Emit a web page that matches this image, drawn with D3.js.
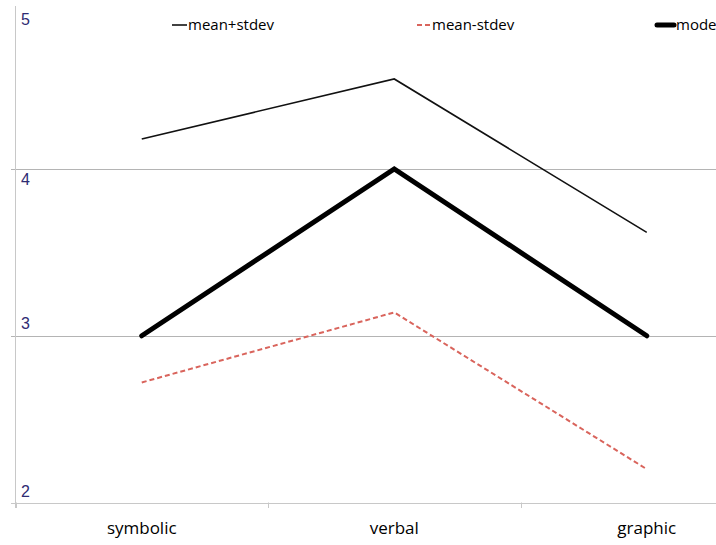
<!DOCTYPE html>
<html>
<head>
<meta charset="utf-8">
<script src="https://cdn.jsdelivr.net/npm/d3@7"></script>
<style>
	body { margin: 0; background: #fff; }
	svg { display: block; }
</style>
</head>
<body>
<div id="chart"></div>
<script>
// chart data
const categories = ['symbolic', 'verbal', 'graphic'];
const meanPlusStdev = [4.18, 4.54, 3.62];
const meanMinusStdev = [2.72, 3.14, 2.20];
const modeValues = [3, 4, 3];
const yTicks = [2, 3, 4, 5];

const w = 716, h = 545;

let svg = d3.select('#chart').append('svg')
	.attr('width', w)
	.attr('height', h);

const x = d3.scaleBand().domain(categories).range([15.5, 15.5 + 3 * 252.5]);
const y = d3.scaleLinear().domain([2, 5]).range([502.5, 2.25]);

// gridlines (the 2 line doubles as the x axis)
svg.append('g').selectAll('line')
	.data(yTicks.filter(function(d){ return d < 5 }))
	.enter().append('line')
	.attr('x1', 11).attr('x2', w)
	.attr('y1', function(d){ return Math.round(y(d)) + 0.5 })
	.attr('y2', function(d){ return Math.round(y(d)) + 0.5 })
	.attr('stroke', function(d){ return d == 2 ? '#c8c8c8' : '#b4b4b4' })
	.attr('stroke-width', 1);

// y axis line
svg.append('line')
	.attr('x1', 15.5).attr('x2', 15.5)
	.attr('y1', 6).attr('y2', 508)
	.attr('stroke', '#c8c8c8');

// x ticks between categories
svg.append('g').selectAll('line')
	.data(categories)
	.enter().append('line')
	.attr('x1', function(d){ return Math.round(x(d)) + 0.5 })
	.attr('x2', function(d){ return Math.round(x(d)) + 0.5 })
	.attr('y1', 502.5).attr('y2', 508)
	.attr('stroke', '#c8c8c8');

// y labels sit oddly round their lines, like the original
const labelShift = { 2: -5.5, 3: -7, 4: 16, 5: 23 };
svg.append('g').selectAll('text')
	.data(yTicks)
	.enter().append('text')
	.attr('x', 21)
	.attr('y', function(d){ return y(d) + labelShift[d] })
	.attr('font-family', 'Liberation Sans, Arial, sans-serif')
	.attr('font-size', 16)
	.attr('fill', '#2e2b73')
	.text(function(d){ return d });

// x labels
svg.append('g').selectAll('text')
	.data(categories)
	.enter().append('text')
	.attr('x', function(d){ return x(d) + x.bandwidth() / 2 })
	.attr('y', 534)
	.attr('text-anchor', 'middle')
	.attr('font-family', 'Open Sans, sans-serif')
	.attr('font-size', 17)
	.attr('fill', '#000')
	.text(function(d){ return d });

const series = [
	{ name: 'mean+stdev', values: meanPlusStdev, color: '#111', width: 1.6, dash: null, cap: 'butt', lx: 172, ll: 15 },
	{ name: 'mean-stdev', values: meanMinusStdev, color: '#d9645c', width: 2, dash: '5,3', cap: 'butt', lx: 417, ll: 14 },
	{ name: 'mode', values: modeValues, color: '#000', width: 5, dash: null, cap: 'round', lx: 657, ll: 17 }
];

const line = d3.line()
	.x(function(d, i){ return x(categories[i]) + x.bandwidth() / 2 })
	.y(function(d){ return y(d) });

svg.append('g').selectAll('path')
	.data(series)
	.enter().append('path')
	.attr('d', function(d){ return line(d.values) })
	.attr('fill', 'none')
	.attr('stroke', function(d){ return d.color })
	.attr('stroke-width', function(d){ return d.width })
	.attr('stroke-dasharray', function(d){ return d.dash })
	.attr('stroke-linecap', function(d){ return d.cap })
	.attr('stroke-linejoin', 'miter');

// legend
let legend = svg.append('g').selectAll('g')
	.data(series)
	.enter().append('g');

legend.append('line')
	.attr('x1', function(d){ return d.lx })
	.attr('x2', function(d){ return d.lx + d.ll })
	.attr('y1', 25).attr('y2', 25)
	.attr('stroke', function(d){ return d.color })
	.attr('stroke-width', function(d){ return d.width })
	.attr('stroke-dasharray', function(d){ return d.dash })
	.attr('stroke-linecap', function(d){ return d.cap });

legend.append('text')
	.attr('x', function(d){ return d.lx + d.ll + (d.cap == 'round' ? 2 : 1) })
	.attr('y', 30)
	.attr('font-family', 'Open Sans, sans-serif')
	.attr('font-size', 15)
	.attr('fill', '#000')
	.text(function(d){ return d.name });
</script>
</body>
</html>
